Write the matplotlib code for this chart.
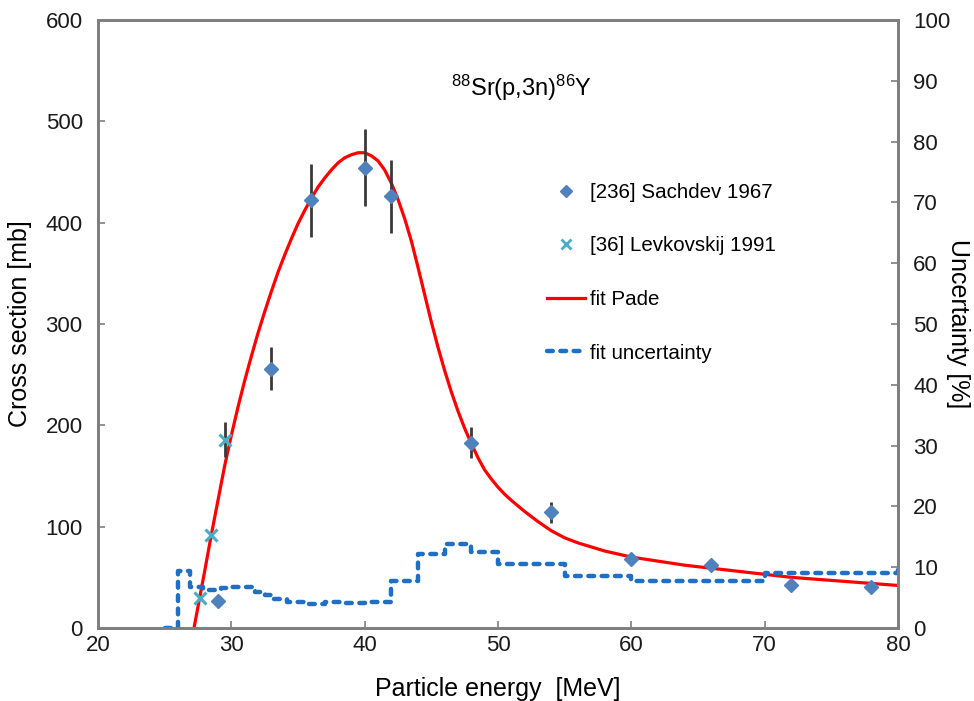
import matplotlib
matplotlib.use("Agg")
import matplotlib.pyplot as plt
from matplotlib.lines import Line2D

plt.rcParams["font.family"] = ["Liberation Sans", "DejaVu Sans"]
plt.rcParams["mathtext.fontset"] = "custom"
plt.rcParams["mathtext.rm"] = "Liberation Sans"
plt.rcParams["mathtext.it"] = "Liberation Sans:italic"

# measured data, Sachdev 1967
sach_e = [29.0, 33.0, 36.0, 40.0, 42.0, 48.0, 54.0, 60.0, 66.0, 72.0, 78.0]
sach_xs = [27, 256, 422, 454, 426, 183, 114, 68, 62, 42, 40]
sach_err = [0, 21, 36, 38, 36, 15, 10, 0, 0, 0, 0]

# Levkovskij 1991
lev_e = [27.65, 28.5, 29.55]
lev_xs = [30, 92, 186]
lev_err = [0, 0, 17]

# Pade fit (cross section, mb)
fit_e = [27.2, 27.6, 28.0, 28.5, 29.0, 29.5, 30.0, 30.5, 31.0, 31.5, 32.0, 32.5,
         33.0, 33.5, 34.0, 34.5, 35.0, 35.5, 36.0, 36.5, 37.0, 37.5, 38.0, 38.5,
         39.0, 39.5, 40.0, 40.5, 41.0, 41.5, 42.0, 42.5, 43.0, 43.5, 44.0, 44.5,
         45.0, 45.5, 46.0, 46.5, 47.0, 47.5, 48.0, 48.5, 49.0, 49.5, 50.0, 50.5,
         51.0, 52.0, 53.0, 54.0, 55.0, 56.0, 57.0, 58.0, 60.0, 62.0, 64.0, 66.0,
         68.0, 70.0, 72.0, 74.0, 76.0, 78.0, 80.0]
fit_xs = [0, 28, 56, 92, 126, 160, 190, 218, 244, 268, 291, 312,
          332, 351, 368, 384, 399, 412, 424, 435, 444, 452, 459, 464,
          467, 469, 469, 466, 461, 452, 439, 423, 404, 382, 356, 329,
          302, 277, 254, 233, 214, 197, 182, 168, 156, 147, 139, 132,
          126, 115, 105, 96, 89, 84, 80, 76, 70, 66, 62, 59,
          56, 53, 50, 48, 46, 44, 42]

# fit uncertainty (%), step function
unc_e = [25.0, 26.0, 26.9, 27.9, 29.2, 30.0, 31.0, 31.8, 32.5, 33.2, 34.2,
         35.5, 37.0, 38.5, 40.0, 42.0, 44.0, 46.0, 48.0, 50.0, 55.0, 60.0,
         70.0, 80.0]
unc_pct = [0.0, 9.4, 6.8, 6.2, 6.6, 6.8, 6.7, 6.0, 5.4, 4.8, 4.2,
           4.0, 4.2, 4.1, 4.2, 7.8, 12.1, 13.8, 12.5, 10.5, 8.6, 7.7,
           9.0, 10.5]

grey = "#7f7f7f"
diamond_c = "#4f81bd"
x_c = "#4bacc6"
red = "#ff0000"
blue = "#1f6fc4"
dash = (0, (1.3, 1.7))

fig = plt.figure(figsize=(9.74, 7.01), dpi=100)
ax = fig.add_axes([0.1006, 0.1041, 0.8214, 0.8674])
ax2 = ax.twinx()

ax.plot(fit_e, fit_xs, color=red, lw=2.3, zorder=2)
ax.errorbar(sach_e, sach_xs, yerr=sach_err, fmt="none", ecolor="#3a3a3a",
            elinewidth=2.0, capsize=0, zorder=3)
ax.errorbar(lev_e, lev_xs, yerr=lev_err, fmt="none", ecolor="#3a3a3a",
            elinewidth=2.0, capsize=0, zorder=3)
ax.plot(sach_e, sach_xs, ls="none", marker="D", ms=7.5, color=diamond_c,
        mec=diamond_c, zorder=4)
ax.plot(lev_e, lev_xs, ls="none", marker="x", ms=9, mew=2.2, color=x_c,
        zorder=4)

ax2.plot(unc_e, unc_pct, drawstyle="steps-post", color=blue, lw=3.2,
         ls=dash, dash_capstyle="round", zorder=2)

ax.set_xlim(20, 80)
ax.set_ylim(0, 600)
ax2.set_ylim(0, 100)
ax.set_xticks(range(20, 81, 10))
ax.set_yticks(range(0, 601, 100))
ax2.set_yticks(range(0, 101, 10))

for a in (ax, ax2):
    for s in a.spines.values():
        s.set_color(grey)
        s.set_linewidth(2.0)
    a.tick_params(direction="in", length=5, width=1.2, color=grey,
                  labelsize=16, labelcolor="#1a1a1a")
ax.tick_params(axis="x", pad=5)
ax.tick_params(axis="y", pad=11)
ax2.tick_params(axis="y", pad=11)

ax.set_xlabel("Particle energy  [MeV]", fontsize=18, va="center")
ax.set_ylabel("Cross section [mb]", fontsize=18, va="center")
ax2.set_ylabel("Uncertainty [%]", fontsize=18, rotation=270, va="center")
ax.xaxis.set_label_coords(0.5, -0.101)
ax.yaxis.set_label_coords(-0.097, 0.5)
ax2.yaxis.set_label_coords(1.075, 0.5)

ax.text(0.529, 0.888, r"$^{88}$Sr(p,3n)$^{86}$Y", transform=ax.transAxes,
        ha="center", va="center", fontsize=17)

handles = [
    Line2D([], [], ls="none", marker="D", ms=6, color=diamond_c),
    Line2D([], [], ls="none", marker="x", ms=7, mew=2, color=x_c),
    Line2D([], [], color=red, lw=2.3),
    Line2D([], [], color=blue, lw=3.2, ls=dash, dash_capstyle="round"),
]
labels = ["[236] Sachdev 1967", "[36] Levkovskij 1991", "fit Pade",
          "fit uncertainty"]
ax2.legend(handles, labels, loc="upper left", bbox_to_anchor=(0.561, 0.732),
           frameon=False, fontsize=14.8, handlelength=1.85, handletextpad=0.25,
           labelspacing=1.68, borderpad=0, borderaxespad=0)

fig.savefig("out.png", dpi=100)
